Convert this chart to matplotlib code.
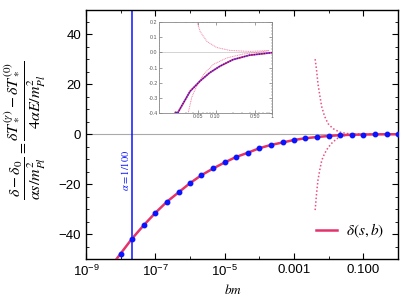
import numpy as np
import matplotlib
matplotlib.use("Agg")
import matplotlib.pyplot as plt
from matplotlib.ticker import FixedLocator, MultipleLocator, NullFormatter, FormatStrFormatter

plt.rcParams['font.family'] = ['Liberation Sans', 'DejaVu Sans']
plt.rcParams['mathtext.fontset'] = 'stix'

# -----------------------------
# Data (log10 of bm, value)
# -----------------------------
log_bm_dots = [-8.0, -7.67, -7.33, -7.0, -6.67, -6.33, -6.0, -5.67, -5.33,
               -5.0, -4.67, -4.33, -4.0, -3.67, -3.33, -3.0, -2.67, -2.33,
               -2.0, -1.67, -1.33, -1.0, -0.67, -0.33, 0.0]
delta_dots = [-47.8, -41.8, -36.4, -31.5, -27.1, -23.3, -19.6, -16.4, -13.7,
              -11.3, -9.1, -7.4, -5.6, -4.3, -3.3, -2.3, -1.6, -1.1,
              -0.7, -0.4, -0.22, -0.115, -0.046, -0.016, -0.002]

# solid curve: extra point below the first dot and finer ones for the inset
log_bm_curve_low = [-8.2]
delta_curve_low = [-51.5]
log_bm_curve_inset = [-1.71, -1.45, -1.27, -1.10, -0.92, -0.69, -0.40, -0.16, 0.0]
delta_curve_inset = [-0.395, -0.257, -0.188, -0.134, -0.091, -0.048, -0.019, -0.009, -0.002]

# dotted approximations
log_bm_upper = [-2.39, -2.35, -2.31, -2.25, -2.20, -2.12, -2.02, -1.88, -1.69,
                -1.49, -1.33, -1.27, -1.15, -0.98, -0.75, -0.40, -0.10, -0.05]
delta_upper = [30.1, 25.8, 20.4, 15.0, 11.0, 7.3, 4.3, 2.3, 0.9,
               0.3, 0.205, 0.136, 0.071, 0.032, 0.013, 0.006, 0.011, 0.013]
log_bm_lower = [-2.39, -2.35, -2.31, -2.25, -2.20, -2.12, -2.02, -1.88, -1.73,
                -1.59, -1.48, -1.42, -1.33, -1.21, -1.04, -0.80, -0.51, -0.22, -0.05]
delta_lower = [-30.4, -23.9, -18.5, -13.8, -10.5, -7.8, -5.4, -3.1, -1.5,
               -0.7, -0.395, -0.296, -0.220, -0.145, -0.080, -0.037, -0.011, 0.002, 0.011]

bm_alpha = 2.15e-8

xticks = [1e-9, 1e-7, 1e-5, 1e-3, 1e-1]
xticklabels = [r'$\mathregular{10^{-9}}$', r'$\mathregular{10^{-7}}$',
               r'$\mathregular{10^{-5}}$', '0.001', '0.100']
inset_xticks = [0.05, 0.10, 0.50, 1.0]
inset_xticklabels = ['0.05', '0.10', '0.50', '1']

RED = '#e4336b'
BLUE = '#0a14ff'

bm_dots = np.power(10.0, log_bm_dots)
# solid curve = merged readings
curve = sorted(zip(log_bm_curve_low + log_bm_dots[:20] + log_bm_curve_inset,
                   delta_curve_low + delta_dots[:20] + delta_curve_inset))
bm_curve = np.power(10.0, [c[0] for c in curve])
delta_curve = [c[1] for c in curve]
bm_upper = np.power(10.0, log_bm_upper)
bm_lower = np.power(10.0, log_bm_lower)

fig = plt.figure(figsize=(4.04, 3.03), dpi=100)
ax = fig.add_axes([86/404, 1-259/303, 312/404, 249.5/303])

ax.axhline(0, color='#aaaaaa', lw=0.8, zorder=1)
ax.axvline(bm_alpha, color=BLUE, lw=1.1, zorder=2)
ax.plot(bm_curve, delta_curve, color=RED, lw=1.8, zorder=3, label=r'$\delta(s,b)$')
ax.plot(bm_upper, delta_upper, color=RED, lw=1.1, ls=(0, (1, 1.4)), alpha=0.85, zorder=3)
ax.plot(bm_lower, delta_lower, color=RED, lw=1.1, ls=(0, (1, 1.4)), alpha=0.85, zorder=3)
ax.plot(bm_dots, delta_dots, 'o', color=BLUE, ms=3.2, zorder=4)

ax.text(1.35e-8, -14.5, r'$\alpha = 1/100$', rotation=90, ha='center', va='center',
        color=BLUE, fontsize=7.5)

ax.set_xscale('log')
ax.set_xlim(1e-9, 1)
ax.set_ylim(-50, 50)
ax.xaxis.set_major_locator(FixedLocator(xticks))
ax.set_xticklabels(xticklabels)
ax.xaxis.set_minor_locator(FixedLocator([1e-8, 1e-6, 1e-4, 1e-2, 1]))
ax.xaxis.set_minor_formatter(NullFormatter())
ax.yaxis.set_major_locator(MultipleLocator(20))
ax.yaxis.set_minor_locator(MultipleLocator(5))
ax.tick_params(which='both', direction='in', top=True, right=True, labelsize=9.5)
ax.tick_params(which='major', length=4, width=0.8)
ax.tick_params(which='minor', length=2.5, width=0.6)
for s in ax.spines.values():
    s.set_linewidth(1.0)

leg = ax.legend(loc='lower right', frameon=False, fontsize=11, handlelength=1.4,
                handletextpad=0.6, bbox_to_anchor=(1.0, 0.02))

fig.text(0.062, 0.568,
         r'$\dfrac{\delta-\delta_0}{\alpha s/m_{Pl}^2}=\dfrac{\delta T_*^{(\gamma)}-\delta T_*^{(0)}}{4\alpha E/m_{Pl}^2}$',
         rotation=90, ha='center', va='center', fontsize=11.5)
fig.text(0.577, 0.043, r'$bm$', ha='center', va='center', fontsize=9.5)

# -----------------------------
# Inset
# -----------------------------
ins = fig.add_axes([159/404, 1-113/303, 113/404, 91/303])
ins.axhline(0, color='#cccccc', lw=0.6, zorder=1)
ins.plot(bm_curve, delta_curve, color=RED, lw=1.3, zorder=3)
ins.plot(bm_curve, delta_curve, color=BLUE, lw=0.9, ls=(0, (1, 1)), zorder=4)
ins.plot(bm_upper, delta_upper, color=RED, lw=0.7, ls=(0, (1, 0.8)), alpha=0.6, zorder=2)
ins.plot(bm_lower, delta_lower, color=RED, lw=0.7, ls=(0, (1, 0.8)), alpha=0.6, zorder=2)
ins.set_xscale('log')
ins.set_xlim(0.01, 1)
ins.set_ylim(-0.4, 0.2)
ins.xaxis.set_major_locator(FixedLocator(inset_xticks))
ins.set_xticklabels(inset_xticklabels)
ins.xaxis.set_minor_locator(FixedLocator([0.02, 0.03, 0.04, 0.06, 0.07, 0.08, 0.09,
                                          0.2, 0.3, 0.4, 0.6, 0.7, 0.8, 0.9]))
ins.xaxis.set_minor_formatter(NullFormatter())
ins.yaxis.set_major_locator(MultipleLocator(0.1))
ins.yaxis.set_minor_locator(MultipleLocator(0.02))
ins.yaxis.set_major_formatter(FormatStrFormatter('%.1f'))
ins.tick_params(which='both', direction='in', top=True, right=True, labelsize=3.8,
                pad=1, colors='#555555')
ins.tick_params(which='major', length=2, width=0.4)
ins.tick_params(which='minor', length=1, width=0.3)
for s in ins.spines.values():
    s.set_linewidth(0.6)
    s.set_color('#888888')

fig.savefig('out.png', dpi=100)
